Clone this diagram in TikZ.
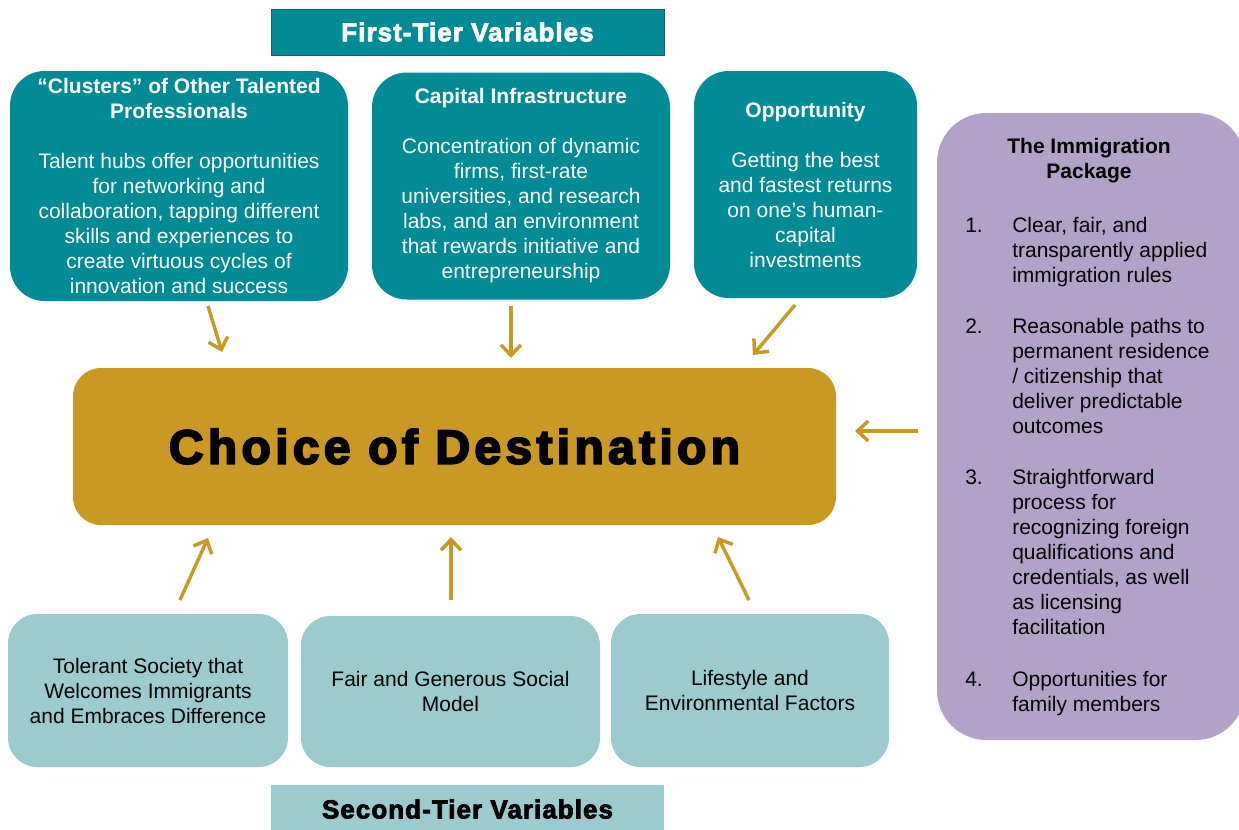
\documentclass[tikz,border=0pt]{standalone}
\usepackage{fontspec}
\setmainfont{Liberation Sans}
\newfontfamily\headfont[FakeBold=3,LetterSpace=4]{Liberation Sans Bold}
\newfontfamily\destfont[FakeBold=4,LetterSpace=9]{Liberation Sans Bold}
\usetikzlibrary{arrows.meta}

\definecolor{tealdark}{RGB}{0,139,150}
\definecolor{tealedge}{RGB}{20,95,105}
\definecolor{teallight}{RGB}{155,203,206}
\definecolor{goldbox}{RGB}{202,153,36}
\definecolor{lilac}{RGB}{178,162,199}

\begin{document}
\begin{tikzpicture}[x=0.75pt,y=-0.75pt,
  font=\fontsize{15.75}{18.75}\selectfont,
  tierbox/.style={fill=tealdark,text=white,rounded corners=26pt,align=center,inner sep=0pt},
  secbox/.style={fill=teallight,text=black,rounded corners=22pt,align=center,inner sep=0pt},
  headbox/.style={align=center,inner sep=0pt,minimum width=294.75pt,font=\headfont\fontsize{19.5}{21}\selectfont},
  goldarrow/.style={draw=goldbox,line width=2.6pt,-{Straight Barb[length=8pt,width=15pt]}}]
  \useasboundingbox (0,0) rectangle (1239,829);

  % headers
  \node[headbox,fill=tealdark,draw=tealedge,line width=0.75pt,text=white,minimum height=34.5pt] (first) at (467.5,32) {First-Tier Variables};
  \node[headbox,fill=teallight,text=black,minimum height=37.5pt,text depth=0pt] (second) at (467.5,810) {\raisebox{1.5pt}{Second-Tier Variables}};

  % first tier
  \node[tierbox,minimum width=253.5pt,minimum height=172.5pt] (clusters) at (179,186)
    {\textbf{“Clusters” of Other Talented}\\\textbf{Professionals}\\[18.75pt]
     Talent hubs offer opportunities\\for networking and\\collaboration, tapping different\\
     skills and experiences to\\create virtuous cycles of\\innovation and success};
  \node[tierbox,minimum width=223.5pt,minimum height=170.25pt] (capital) at (521,186)
    {\textbf{Capital Infrastructure}\\[18.75pt]
     Concentration of dynamic\\firms, first-rate\\universities, and research\\
     labs, and an environment\\that rewards initiative and\\entrepreneurship};
  \node[tierbox,minimum width=167.25pt,minimum height=170.25pt] (opport) at (805.5,184.5)
    {\textbf{Opportunity}\\[18.75pt]
     Getting the best\\and fastest returns\\on one’s human-\\capital\\investments};

  % destination
  \node[fill=goldbox,rounded corners=21pt,inner sep=0pt,minimum width=572.25pt,minimum height=117.75pt,
        font=\destfont\fontsize{36}{40}\selectfont] (dest) at (454.5,446.5) {Choice of Destination};

  % second tier
  \node[secbox,minimum width=210pt,minimum height=114.75pt] (tolerant) at (148,690.5)
    {Tolerant Society that\\Welcomes Immigrants\\and Embraces Difference};
  \node[secbox,minimum width=224.25pt,minimum height=113.25pt] (social) at (450.5,691.5)
    {Fair and Generous Social\\Model};
  \node[secbox,minimum width=208.5pt,minimum height=114.75pt] (lifestyle) at (750,690.5)
    {Lifestyle and\\Environmental Factors};

  % immigration package
  \node[fill=lilac,rounded corners=37pt,inner sep=0pt,minimum width=231pt,minimum height=470.25pt] (package) at (1091,426.5) {};
  \node[align=center,inner sep=0pt,font=\fontsize{15.75}{18.75}\selectfont\bfseries] (packtitle) at (1089,161) {The Immigration\\Package};
  \node[anchor=north west,inner sep=0pt] (packlist) at (965,215)
    {\begin{tabular}{@{}p{35.25pt}@{}l@{}}
     1. & Clear, fair, and\\ & transparently applied\\ & immigration rules\\[19.5pt]
     2. & Reasonable paths to\\ & permanent residence\\ & / citizenship that\\ & deliver predictable\\ & outcomes\\[19.5pt]
     3. & Straightforward\\ & process for\\ & recognizing foreign\\ & qualifications and\\ & credentials, as well\\ & as licensing\\ & facilitation\\[20pt]
     4. & Opportunities for\\ & family members
     \end{tabular}};

  % arrows
  \coordinate (c1) at (208,306);  \coordinate (d1) at (222,352);
  \coordinate (c2) at (511,306);  \coordinate (d2) at (511,358);
  \coordinate (c3) at (795,305);  \coordinate (d3) at (753,355);
  \coordinate (c4) at (918,431);  \coordinate (d4) at (855,431);
  \coordinate (s1) at (180,600);  \coordinate (e1) at (208,538);
  \coordinate (s2) at (451,600);  \coordinate (e2) at (451,537);
  \coordinate (s3) at (749,600);  \coordinate (e3) at (718,537);
  \foreach \a/\b in {c1/d1,c2/d2,c3/d3,c4/d4,s1/e1,s2/e2,s3/e3}
    \draw[goldarrow] (\a) -- (\b);
\end{tikzpicture}
\end{document}
